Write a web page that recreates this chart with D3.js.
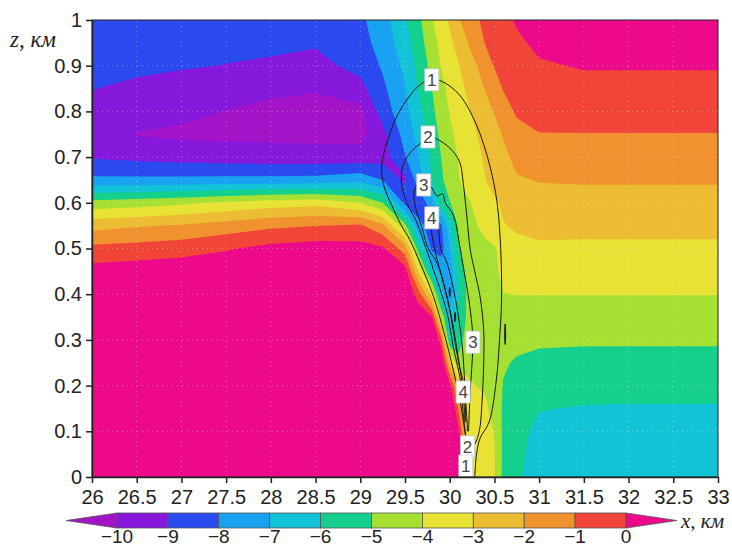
<!DOCTYPE html>
<html>
<head>
<meta charset="utf-8">
<script src="https://cdn.jsdelivr.net/npm/d3@7"></script>
<style>
body{margin:0;background:#fff;}
svg{display:block;}
</style>
</head>
<body>
<div id="chart"></div>
<script>
// grid nodes (km)
const xNodes = [26, 26.5, 27, 27.5, 28, 28.5, 29, 29.25, 29.5, 29.65, 29.8, 29.9, 30, 30.1, 30.2, 30.3, 30.4, 30.5, 30.6, 30.75, 31, 31.5, 32, 33];
const zNodes = [0, 0.05, 0.1, 0.15, 0.2, 0.25, 0.3, 0.35, 0.4, 0.45, 0.5, 0.55, 0.6, 0.65, 0.7, 0.75, 0.8, 0.85, 0.9, 0.95, 1];

// field values, one array per x node, from z = 0 up to z = 1
const fieldByColumn = [
  [2.0, 1.9, 1.8, 1.7, 1.6, 1.5, 1.4, 1.2, 0.9, 0.4, -0.73, -2.37, -4.65, -7.79, -9.1, -9.45, -9.25, -8.98, -8.8, -8.65, -8.5],
  [2.0, 1.9, 1.8, 1.7, 1.6, 1.5, 1.4, 1.2, 0.95, 0.55, -0.6, -2.1, -4.45, -7.77, -9.25, -10.05, -9.5, -9.15, -8.85, -8.7, -8.55],
  [2.0, 1.9, 1.8, 1.7, 1.6, 1.5, 1.4, 1.25, 1.0, 0.7, -0.45, -1.9, -4.2, -7.75, -9.38, -10.2, -9.74, -9.3, -8.93, -8.75, -8.6],
  [2.0, 1.9, 1.8, 1.7, 1.6, 1.5, 1.4, 1.3, 1.1, 0.85, -0.1, -1.55, -3.85, -7.72, -9.47, -10.25, -10.02, -9.55, -9.02, -8.8, -8.65],
  [2.0, 1.9, 1.8, 1.7, 1.6, 1.5, 1.4, 1.3, 1.2, 0.9, 0.3, -1.2, -3.53, -7.7, -9.55, -10.25, -10.25, -9.8, -9.1, -8.85, -8.7],
  [2.0, 1.9, 1.8, 1.7, 1.6, 1.5, 1.4, 1.35, 1.3, 1.0, 0.5, -1.02, -3.33, -7.64, -9.58, -10.3, -10.4, -9.9, -9.3, -8.9, -8.65],
  [2.0, 1.9, 1.8, 1.7, 1.6, 1.5, 1.4, 1.3, 1.1, 0.9, 0.4, -0.85, -4.02, -7.3, -9.6, -10.3, -10.3, -9.3, -8.7, -8.35, -8.2],
  [2.2, 2.1, 2.0, 1.9, 1.8, 1.7, 1.6, 1.5, 1.3, 0.9, 0.15, -1.75, -5.02, -8.02, -9.4, -9.3, -8.55, -8.2, -7.88, -7.63, -7.41],
  [2.4, 2.3, 2.2, 2.1, 2.0, 1.9, 1.7, 1.5, 1.0, 0.5, -1.5, -4.7, -8.3, -9.2, -8.06, -7.61, -7.3, -7.09, -6.77, -6.43, -6.13],
  [2.6, 2.5, 2.4, 2.3, 2.2, 2.0, 1.7, 0.8, -0.5, -3.02, -5.5, -7.6, -8.8, -7.5, -7.06, -6.67, -6.28, -5.94, -5.69, -5.45, -5.24],
  [3.0, 3.0, 2.9, 2.8, 2.6, 2.2, 1.4, 0.1, -3.3, -6.4, -8.2, -8.5, -7.4, -6.02, -5.77, -5.5, -5.21, -5.02, -4.71, -4.4, -4.08],
  [3.0, 3.0, 2.8, 2.6, 2.2, 1.2, -0.4, -4.02, -6.6, -7.2, -8.45, -8.2, -5.6, -5.2, -5.02, -4.81, -4.56, -4.29, -3.98, -3.74, -3.47],
  [3.0, 2.8, 2.5, 1.8, 0.3, -2.5, -6.05, -6.8, -7.6, -7.6, -7.1, -6.4, -5.05, -4.5, -4.56, -4.19, -3.96, -3.74, -3.52, -3.21, -2.85],
  [3.0, 1.6, 0.2, -1.2, -2.5, -4.8, -5.3, -5.7, -6.05, -5.6, -5.05, -4.85, -4.55, -4.05, -3.93, -3.74, -3.54, -3.3, -3.05, -2.63, -2.08],
  [-2.9, -3.1, -3.3, -3.5, -3.8, -4.3, -4.7, -4.85, -4.8, -4.75, -4.7, -4.5, -4.1, -3.7, -3.57, -3.37, -3.13, -2.86, -2.53, -2.02, -1.57],
  [-3.3, -3.35, -3.45, -3.7, -4.02, -4.35, -4.6, -4.7, -4.7, -4.65, -4.55, -4.05, -3.8, -3.35, -3.21, -3.02, -2.73, -2.41, -2.02, -1.44, -1.1],
  [-3.5, -3.55, -3.65, -3.85, -4.1, -4.35, -4.5, -4.55, -4.5, -4.45, -4.3, -3.6, -3.5, -3.02, -2.86, -2.64, -2.35, -1.94, -1.41, -0.95, -0.79],
  [-3.95, -3.95, -4.05, -4.3, -4.5, -4.55, -4.55, -4.45, -4.3, -4.2, -4.1, -3.3, -3.15, -2.6, -2.56, -2.29, -1.94, -1.39, -0.95, -0.73, -0.53],
  [-5.25, -5.2, -5.2, -5.15, -5.05, -4.9, -4.6, -4.3, -4.02, -3.75, -3.6, -3.05, -2.85, -2.35, -2.25, -1.93, -1.39, -0.95, -0.78, -0.5, -0.26],
  [-5.9, -5.85, -5.8, -5.65, -5.45, -5.1, -4.75, -4.38, -3.98, -3.6, -3.3, -2.85, -2.5, -2.1, -1.7, -1.3, -0.88, -0.7, -0.53, -0.16, 0.1],
  [-6.3, -6.25, -6.15, -5.97, -5.6, -5.25, -4.85, -4.42, -3.98, -3.57, -3.15, -2.74, -2.35, -1.95, -1.5, -1.02, -0.75, -0.45, -0.1, 0.2, 0.4],
  [-6.5, -6.4, -6.25, -6.05, -5.7, -5.29, -4.89, -4.44, -3.98, -3.58, -3.17, -2.75, -2.33, -1.91, -1.45, -1.02, -0.64, -0.29, 0.07, 0.4, 0.7],
  [-6.6, -6.45, -6.3, -6.08, -5.7, -5.29, -4.89, -4.44, -3.98, -3.58, -3.17, -2.75, -2.33, -1.91, -1.45, -1.02, -0.64, -0.29, 0.07, 0.4, 0.7],
  [-6.6, -6.45, -6.3, -6.08, -5.7, -5.29, -4.89, -4.44, -3.98, -3.58, -3.17, -2.75, -2.33, -1.91, -1.45, -1.02, -0.64, -0.29, 0.07, 0.4, 0.7]
];

const levels = [-10, -9, -8, -7, -6, -5, -4, -3, -2, -1, 0];
const underColor = "#a314c8";
const bandColors = ["#8618dc", "#2a4af0", "#1aa2f2", "#12c2d6", "#14d08c", "#a6e032", "#e8e234", "#ecbc32", "#f0922e", "#f2453a"];
const overColor = "#ec0a8a";

// isolines 1..4 of the second field, [x, z]
const contour1 = [[30.23,0],[30.21,0.044],[30.17,0.1],[30.12,0.162],[30.04,0.234],[29.93,0.32],[29.82,0.394],[29.67,0.468],[29.55,0.52],[29.46,0.55],[29.35,0.595],[29.26,0.64],[29.24,0.683],[29.3,0.733],[29.41,0.79],[29.56,0.836],[29.68,0.86],[29.8,0.87],[29.92,0.865],[30.11,0.836],[30.3,0.77],[30.45,0.68],[30.53,0.6],[30.57,0.5],[30.58,0.39],[30.56,0.31],[30.52,0.21],[30.44,0.12],[30.34,0.085],[30.3,0.05],[30.28,0]];
const contour2 = [[30.19,0.07],[30.15,0.14],[30.12,0.21],[30.04,0.285],[29.97,0.36],[29.86,0.43],[29.74,0.497],[29.63,0.558],[29.52,0.6],[29.46,0.645],[29.48,0.683],[29.56,0.71],[29.67,0.73],[29.76,0.744],[29.85,0.74],[30.0,0.72],[30.11,0.69],[30.15,0.645],[30.19,0.573],[30.23,0.497],[30.28,0.45],[30.34,0.394],[30.38,0.32],[30.38,0.25],[30.36,0.16],[30.33,0.1],[30.27,0.07],[30.21,0.066]];
const contour3 = [[30.2,0.1],[30.16,0.2],[30.1,0.25],[30.04,0.32],[29.97,0.394],[29.86,0.468],[29.76,0.5],[29.69,0.545],[29.62,0.588],[29.6,0.62],[29.64,0.64],[29.71,0.645],[29.79,0.635],[29.86,0.615],[29.92,0.62],[29.95,0.6],[30.04,0.573],[30.12,0.497],[30.16,0.45],[30.21,0.394],[30.25,0.33],[30.26,0.295],[30.25,0.25],[30.23,0.19],[30.21,0.1]];
const contour4 = [[30.17,0.12],[30.15,0.186],[30.08,0.28],[30.02,0.35],[29.93,0.424],[29.83,0.5],[29.79,0.55],[29.8,0.572],[29.86,0.558],[29.9,0.5],[29.97,0.468],[30.06,0.394],[30.12,0.32],[30.15,0.263],[30.17,0.19],[30.18,0.12]];
const smallLoops = [
  [[30.62,0.29],[30.626,0.31],[30.62,0.335],[30.614,0.31]],
  [[30.0,0.395],[30.006,0.405],[30.0,0.415],[29.994,0.405]],
  [[30.06,0.34],[30.066,0.35],[30.06,0.36],[30.054,0.35]]
];
const contourLabels = [[29.8, 0.869, "1"], [29.757, 0.744, "2"], [29.71, 0.639, "3"], [29.8, 0.567, "4"], [30.26, 0.295, "3"], [30.15, 0.186, "4"], [30.2, 0.066, "2"], [30.18, 0.024, "1"]];

const xTicks = [26, 26.5, 27, 27.5, 28, 28.5, 29, 29.5, 30, 30.5, 31, 31.5, 32, 32.5, 33];
const zTicks = [0, 0.1, 0.2, 0.3, 0.4, 0.5, 0.6, 0.7, 0.8, 0.9, 1];
const barTicks = [-10, -9, -8, -7, -6, -5, -4, -3, -2, -1, 0];

const width = 732, height = 548;
const x = d3.scaleLinear().domain([26, 33]).range([92, 718]);
const y = d3.scaleLinear().domain([0, 1]).range([477, 20]);

const svg = d3.select("#chart").append("svg")
    .attr("width", width)
    .attr("height", height);

svg.append("clipPath").attr("id", "plotclip")
  .append("rect")
    .attr("x", x(26)).attr("y", y(1))
    .attr("width", x(33) - x(26)).attr("height", y(0) - y(1));

const plot = svg.append("g").attr("clip-path", "url(#plotclip)");

// filled contours
const nx = xNodes.length, nz = zNodes.length;
const values = [];
for (let j = 0; j < nz; j++) for (let i = 0; i < nx; i++) values.push(fieldByColumn[i][j]);

const gx = d3.scaleLinear()
    .domain([0, ...xNodes.map((d, i) => i + 0.5), nx])
    .range([xNodes[0], ...xNodes, xNodes[nx - 1]]);
const gz = d3.scaleLinear()
    .domain([0, ...zNodes.map((d, i) => i + 0.5), nz])
    .range([zNodes[0], ...zNodes, zNodes[nz - 1]]);

const proj = d3.geoTransform({
  point: function(px, py) { this.stream.point(x(gx(px)), y(gz(py))); }
});
const path = d3.geoPath(proj);

const bands = d3.contours().size([nx, nz]).thresholds(levels)(values);

plot.append("rect")
    .attr("x", x(26)).attr("y", y(1))
    .attr("width", x(33) - x(26)).attr("height", y(0) - y(1))
    .attr("fill", underColor);

plot.selectAll("path.band")
  .data(bands)
  .enter().append("path")
    .attr("class", "band")
    .attr("d", path)
    .attr("fill", d => d.value >= 0 ? overColor : bandColors[levels.indexOf(d.value)]);

// faint dotted grid
const grid = plot.append("g").attr("stroke", "#fff").attr("stroke-opacity", 0.35)
    .attr("stroke-dasharray", "1,4");
grid.selectAll("line.gx").data(xTicks.slice(1, -1)).enter().append("line")
    .attr("x1", d => x(d)).attr("x2", d => x(d)).attr("y1", y(0)).attr("y2", y(1));
grid.selectAll("line.gz").data(zTicks.slice(1, -1)).enter().append("line")
    .attr("y1", d => y(d)).attr("y2", d => y(d)).attr("x1", x(26)).attr("x2", x(33));

// isolines
const line = d3.line().x(d => x(d[0])).y(d => y(d[1])).curve(d3.curveCatmullRom.alpha(0.5));
plot.selectAll("path.iso")
  .data([contour1, contour2, contour3, contour4])
  .enter().append("path")
    .attr("class", "iso")
    .attr("d", line)
    .attr("fill", "none")
    .attr("stroke", "#1a1a1a")
    .attr("stroke-width", 1);

const loop = d3.line().x(d => x(d[0])).y(d => y(d[1])).curve(d3.curveCardinalClosed);
plot.selectAll("path.loop")
  .data(smallLoops)
  .enter().append("path")
    .attr("d", loop)
    .attr("fill", "#1a1a1a")
    .attr("stroke", "#1a1a1a")
    .attr("stroke-width", 1);

const lab = plot.selectAll("g.lab")
  .data(contourLabels)
  .enter().append("g")
    .attr("transform", d => `translate(${x(d[0])},${y(d[1])})`);
lab.append("rect")
    .attr("x", -7).attr("y", -11)
    .attr("width", 14).attr("height", 22)
    .attr("fill", "#fff")
    .attr("stroke", "#ccc")
    .attr("stroke-width", 0.8);
lab.append("text")
    .text(d => d[2])
    .attr("text-anchor", "middle")
    .attr("dy", "0.36em")
    .attr("font-family", "Liberation Sans, Arial, sans-serif")
    .attr("font-size", 17)
    .attr("fill", "#444");

// frame
svg.append("rect")
    .attr("x", x(26)).attr("y", y(1))
    .attr("width", x(33) - x(26)).attr("height", y(0) - y(1))
    .attr("fill", "none")
    .attr("stroke", "#222")
    .attr("stroke-width", 1);

// axes
const xAxis = svg.append("g")
    .attr("transform", `translate(0,${y(0)})`)
    .call(d3.axisBottom(x).tickValues(xTicks).tickFormat(d3.format("")).tickSize(6).tickSizeOuter(0).tickPadding(7));
const yAxis = svg.append("g")
    .attr("transform", `translate(${x(26)},0)`)
    .call(d3.axisLeft(y).tickValues(zTicks).tickFormat(d3.format("")).tickSize(6).tickSizeOuter(0).tickPadding(4));

svg.selectAll(".tick text")
    .attr("font-family", "Liberation Sans, Arial, sans-serif")
    .attr("font-size", 20)
    .attr("fill", "#222");
svg.selectAll(".domain, .tick line").attr("stroke", "#222").attr("stroke-width", 1.5);

svg.append("text")
    .text("z, км")
    .attr("x", 10).attr("y", 47)
    .attr("font-family", "Liberation Serif, Times New Roman, serif")
    .attr("font-style", "italic")
    .attr("font-size", 23)
    .attr("fill", "#222");

// colour bar
const cb = d3.scaleLinear().domain([-10, 0]).range([117, 626]);
const barTop = 513, barBottom = 528, barMid = (barTop + barBottom) / 2;
const bar = svg.append("g");
bar.selectAll("rect")
  .data(bandColors)
  .enter().append("rect")
    .attr("x", (d, i) => cb(levels[i]))
    .attr("y", barTop)
    .attr("width", (d, i) => cb(levels[i + 1]) - cb(levels[i]))
    .attr("height", barBottom - barTop)
    .attr("fill", d => d)
    .attr("stroke", "#555")
    .attr("stroke-width", 0.8);
bar.append("path")
    .attr("d", `M${cb(-10)},${barTop}L${cb(-11)},${barMid}L${cb(-10)},${barBottom}Z`)
    .attr("fill", underColor).attr("stroke", "#555").attr("stroke-width", 0.8);
bar.append("path")
    .attr("d", `M${cb(0)},${barTop}L${cb(1)},${barMid}L${cb(0)},${barBottom}Z`)
    .attr("fill", overColor).attr("stroke", "#555").attr("stroke-width", 0.8);
bar.selectAll("text")
  .data(barTicks)
  .enter().append("text")
    .text(d => d < 0 ? "\u2212" + Math.abs(d) : d)
    .attr("x", d => cb(d))
    .attr("y", 543)
    .attr("text-anchor", "middle")
    .attr("font-family", "Liberation Sans, Arial, sans-serif")
    .attr("font-size", 19)
    .attr("fill", "#222");

svg.append("text")
    .text("x, км")
    .attr("x", 681).attr("y", 528)
    .attr("font-family", "Liberation Serif, Times New Roman, serif")
    .attr("font-style", "italic")
    .attr("font-size", 21)
    .attr("fill", "#222");
</script>
</body>
</html>
